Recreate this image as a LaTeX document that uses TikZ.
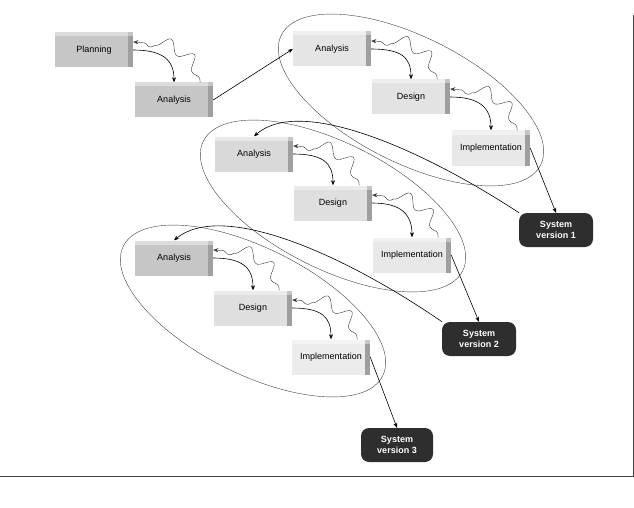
\documentclass[tikz,border=0pt]{standalone}
\usepackage{fontspec}
\setsansfont{Liberation Sans}
\usetikzlibrary{arrows.meta,decorations.pathmorphing}

\begin{document}
\begin{tikzpicture}[x=1pt,y=-1pt,>={Stealth[length=5pt,width=4pt]},
  every node/.style={font=\sffamily\fontsize{9}{10.5}\selectfont},
  stage/.style={fill=gray!#1,minimum width=78pt,minimum height=35pt,inner sep=1pt,
    path picture={\fill[gray!75] ([xshift=-5pt]path picture bounding box.north east)
      rectangle (path picture bounding box.south east);
      \fill[white,opacity=.4] (path picture bounding box.north west)
      rectangle ([yshift=-4pt]path picture bounding box.north east);}},
  stage/.default=30,
  release/.style={fill=black!82,text=white,rounded corners=8pt,minimum width=74pt,
    minimum height=34pt,align=center,font=\sffamily\bfseries\fontsize{9}{10.5}\selectfont},
  flow/.style={->,semithick},
  rework/.style={->,thin,black!80,decorate,decoration={snake,amplitude=6pt,
    segment length=26pt,pre length=4pt,post length=4pt}},
  cycle/.style={thin,gray!50!black}]
  \useasboundingbox (0,0) rectangle (634,508);
  \foreach \cx/\cy in {411/100,333/206,253/311}
    \draw[cycle,rotate around={-26.6:(\cx,\cy)}] (\cx,\cy) ellipse [x radius=145pt,y radius=63pt];

  \node[stage=45] (plan) at (94,50) {Planning};
  \node[stage=45] (ana0) at (174,100) {Analysis};
  \node[stage=20] (ana1) at (332,49) {Analysis};
  \node[stage=22] (des1) at (411,97) {Design};
  \node[stage=18] (imp1) at (491,148) {Implementation};
  \node[release] (sys1) at (556,230) {System\\version 1};
  \node[stage=30] (ana2) at (254,154) {Analysis};
  \node[stage=25] (des2) at (333,203) {Design};
  \node[stage=18] (imp2) at (412,255) {Implementation};
  \node[release] (sys2) at (479,339) {System\\version 2};
  \node[stage=45] (ana3) at (174,258) {Analysis};
  \node[stage=25] (des3) at (253,308) {Design};
  \node[stage=15] (imp3) at (331,357) {Implementation};
  \node[release,minimum width=72pt] (sys3) at (397,445) {System\\version 3};

  \foreach \a/\b in {plan/ana0,ana1/des1,des1/imp1,ana2/des2,des2/imp2,ana3/des3,des3/imp3}{
    \draw[flow] (\a.east) .. controls +(30,0) and +(0,-22) .. (\b.north);
    \draw[rework] ([xshift=-13pt]\b.north east) .. controls +(0,-22) and +(22,0)
      .. ([yshift=8pt]\a.east);
  }
  \draw[flow] (ana0.east) -- (ana1.west);
  \draw[flow] (imp1.east) -- (sys1.north);
  \draw[flow] (imp2.east) -- (sys2.north);
  \draw[flow] (imp3.east) -- (sys3.north);
  \draw[flow] (sys1.155) .. controls (420,148) and (300,96) .. (ana2.north);
  \draw[flow] (sys2.155) .. controls (342,253) and (222,201) .. (ana3.north);

  \draw[gray!50!black,line width=.8pt] (0,476) -- (633,476) -- (633,15);
\end{tikzpicture}
\end{document}
